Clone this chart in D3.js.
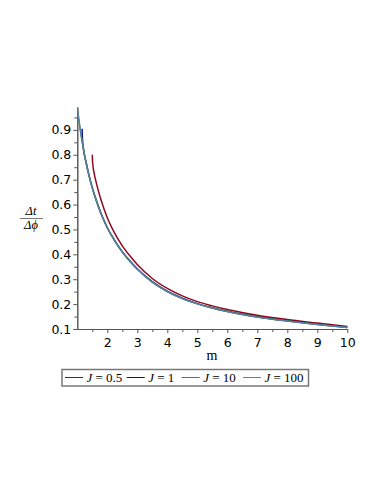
<!DOCTYPE html>
<html>
<head>
<meta charset="utf-8">
<script src="https://cdn.jsdelivr.net/npm/d3@7"></script>
<style>
  body { margin: 0; background: #fff; }
  svg { display: block; }
</style>
</head>
<body>
<div id="chart"></div>
<script>
// series values
var mBlue = [1.0, 1.1, 1.2, 1.3, 1.4, 1.5, 1.6, 1.8, 2.0, 2.25, 2.5, 2.75, 3.0, 3.5, 4.0, 4.5, 5.0, 5.5, 6.0, 7.0, 8.0, 9.0, 10.0];
var tJ100 = [0.99, 0.9, 0.826, 0.764, 0.711, 0.666, 0.627, 0.56, 0.506, 0.453, 0.409, 0.372, 0.34, 0.288, 0.25, 0.222, 0.201, 0.184, 0.17, 0.148, 0.132, 0.118, 0.106];
var tJ10  = [0.99, 0.9, 0.826, 0.764, 0.711, 0.666, 0.627, 0.56, 0.506, 0.453, 0.409, 0.372, 0.34, 0.288, 0.25, 0.222, 0.201, 0.184, 0.17, 0.148, 0.132, 0.118, 0.106];
var mJ1   = [1.16, 1.17, 1.2, 1.3, 1.4, 1.5, 1.6, 1.8, 2.0, 2.25, 2.5, 2.75, 3.0, 3.5, 4.0, 4.5, 5.0, 5.5, 6.0, 7.0, 8.0, 9.0, 10.0];
var tJ1   = [0.905, 0.868, 0.83, 0.766, 0.713, 0.668, 0.629, 0.562, 0.508, 0.455, 0.411, 0.374, 0.342, 0.29, 0.252, 0.224, 0.202, 0.185, 0.171, 0.149, 0.133, 0.119, 0.107];
var mRed  = [1.5, 1.505, 1.52, 1.55, 1.6, 1.7, 1.8, 2.0, 2.25, 2.5, 2.75, 3.0, 3.5, 4.0, 4.5, 5.0, 5.5, 6.0, 7.0, 8.0, 9.0, 10.0];
var tJ05  = [0.8, 0.78, 0.758, 0.733, 0.704, 0.656, 0.615, 0.547, 0.484, 0.434, 0.394, 0.359, 0.303, 0.263, 0.233, 0.21, 0.193, 0.178, 0.155, 0.138, 0.124, 0.11];

var seriesNames  = ["J = 0.5", "J = 1", "J = 10", "J = 100"];
var seriesColors = ["#8E0A1E", "#0A1680", "#4A8A00", "#5A7DB8"];
var xTicks = [2, 3, 4, 5, 6, 7, 8, 9, 10];
var yTicks = [0.1, 0.2, 0.3, 0.4, 0.5, 0.6, 0.7, 0.8, 0.9];

var W = 382, H = 494;
var svg = d3.select("#chart").append("svg")
  .attr("width", W)
  .attr("height", H);

var x = d3.scaleLinear().domain([1, 10]).range([77.3, 347.3]);
var y = d3.scaleLinear().domain([0.1, 0.992]).range([329, 107]);

svg.append("clipPath").attr("id", "plotclip")
  .append("rect")
  .attr("x", x(1)).attr("y", y(0.992) - 1)
  .attr("width", x(10) - x(1) + 2).attr("height", y(0.1) - y(0.992) + 1);

// axes
var xAxis = d3.axisBottom(x).tickValues(xTicks).tickSize(4).tickSizeOuter(0).tickFormat(d3.format("d"));
var xMinor = d3.axisBottom(x).tickValues(d3.range(1.5, 10, 1)).tickSize(3).tickSizeOuter(0).tickFormat("");
var yAxis = d3.axisLeft(y).tickValues(yTicks).tickSize(4).tickSizeOuter(0).tickFormat(d3.format(".1f"));
var yMinor = d3.axisLeft(y).tickValues(d3.range(0.15, 0.99, 0.1)).tickSize(3).tickSizeOuter(0).tickFormat("");

function styleAxis(g) {
  g.select(".domain").attr("stroke", "#555").attr("stroke-width", 1);
  g.selectAll(".tick line").attr("stroke", "#555");
  g.selectAll(".tick text")
    .attr("fill", "#000")
    .style("font-family", "'DejaVu Sans', sans-serif")
    .style("font-size", "12.5px");
}

svg.append("g").attr("transform", "translate(0," + y(0.1) + ")").call(xMinor).call(styleAxis);
svg.append("g").attr("transform", "translate(0," + y(0.1) + ")").call(xAxis).call(styleAxis)
  .selectAll(".tick text").attr("dy", "0.9em");
svg.append("g").attr("transform", "translate(" + x(1) + ",0)").call(yMinor).call(styleAxis);
svg.append("g").attr("transform", "translate(" + x(1) + ",0)").call(yAxis).call(styleAxis)
  .selectAll(".tick text").attr("x", -6);

// curves
var line = d3.line()
  .x(function(d) { return x(d[0]); })
  .y(function(d) { return y(d[1]); })
  .curve(d3.curveMonotoneX);

var curves = [
  { m: mRed,  t: tJ05, color: seriesColors[0] },
  { m: mJ1,   t: tJ1,  color: seriesColors[1] },
  { m: mBlue, t: tJ10, color: seriesColors[2] },
  { m: mBlue, t: tJ100, color: seriesColors[3] }
];

var plot = svg.append("g").attr("clip-path", "url(#plotclip)");
curves.forEach(function(c, i) {
  var pts = c.m.map(function(v, k) { return [v, c.t[k]]; });
  plot.append("path")
    .attr("d", line(pts))
    .attr("fill", "none")
    .attr("stroke", c.color)
    .attr("stroke-width", i == 3 ? 1.3 : 1.5);
});

// axis titles
svg.append("text")
  .attr("x", 212).attr("y", 360)
  .attr("text-anchor", "middle")
  .style("font-family", "'Liberation Serif', serif")
  .style("font-size", "14px")
  .text("m");

var ylab = svg.append("g").attr("transform", "translate(31,0)");
ylab.append("text")
  .attr("x", 0).attr("y", 215)
  .attr("text-anchor", "middle")
  .style("font-family", "'Liberation Serif', serif")
  .style("font-style", "italic")
  .style("font-size", "12.5px")
  .text("Δt");
ylab.append("line")
  .attr("x1", -11).attr("x2", 12)
  .attr("y1", 218.5).attr("y2", 218.5)
  .attr("stroke", "#777").attr("stroke-width", 1);
ylab.append("text")
  .attr("x", 0).attr("y", 229)
  .attr("text-anchor", "middle")
  .style("font-family", "'Liberation Serif', serif")
  .style("font-style", "italic")
  .style("font-size", "12.5px")
  .text("Δϕ");

// legend
var legX = [65, 126.7, 181.7, 243];
var legend = svg.append("g");
legend.append("rect")
  .attr("x", 62).attr("y", 369.5)
  .attr("width", 246.5).attr("height", 16.5)
  .attr("fill", "none")
  .attr("stroke", "#777")
  .attr("stroke-width", 1.5);

seriesNames.forEach(function(name, i) {
  var g = legend.append("g").attr("transform", "translate(" + legX[i] + ",0)");
  g.append("line")
    .attr("x1", 0).attr("x2", 18)
    .attr("y1", 377.5).attr("y2", 377.5)
    .attr("stroke", seriesColors[i]).attr("stroke-width", 1);
  var parts = name.split(" = ");
  var t = g.append("text")
    .attr("x", 21.5).attr("y", 382)
    .style("font-family", "'Liberation Serif', serif")
    .style("font-size", "13px");
  t.append("tspan").style("font-style", "italic").text(parts[0]);
  t.append("tspan").text(" = " + parts[1]);
});
</script>
</body>
</html>
